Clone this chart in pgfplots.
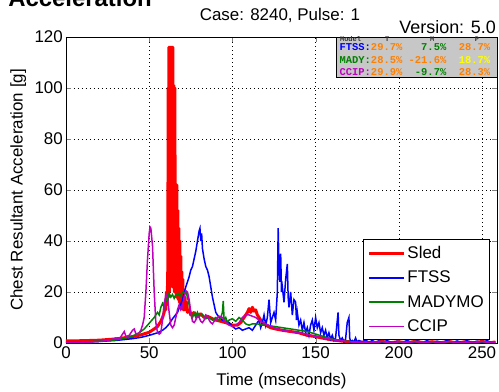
\documentclass[border=0pt]{standalone}
\usepackage{fontspec}
\setmainfont{Liberation Sans}
\newfontfamily\monofont{Liberation Mono}
\usepackage{pgfplots}
\pgfplotsset{compat=1.18}

\definecolor{mred}{RGB}{255,0,0}
\definecolor{mblue}{RGB}{0,0,255}
\definecolor{mgreen}{RGB}{0,128,0}
\definecolor{mmag}{RGB}{191,0,191}
\definecolor{morange}{RGB}{255,128,0}
\definecolor{myellow}{RGB}{255,255,0}

\begin{document}
\begin{tikzpicture}
\begin{axis}[
  scale only axis, width=431bp, height=306bp,
  xmin=0, xmax=259, ymin=0, ymax=120,
  xtick={0,50,...,250}, ytick={0,20,...,120},
  tick align=inside, major tick length=5bp, tick pos=both,
  axis line style={line width=0.9bp},
  grid=major,
  major grid style={black, line width=0.6bp, dash pattern=on 1bp off 3bp},
  font=\fontsize{17}{20}\selectfont,
  /pgf/number format/assume math mode=true,
  ticklabel style={font=\fontsize{17}{20}\selectfont},
  xticklabel style={inner sep=0pt, yshift=-3bp},
  yticklabel style={inner sep=0pt, xshift=-3bp},
  xlabel={Time (mseconds)},
  ylabel={Chest Resultant Acceleration [g]},
  every axis x label/.style={at={(axis description cs:0.5,-0.124)}, anchor=center},
  every axis y label/.style={at={(axis description cs:-0.111,0.5)}, anchor=center, rotate=90},
  legend style={at={(rel axis cs:0.984,0.01)}, anchor=south east,
    draw=black, line width=0.8bp, fill=white,
    font=\fontsize{17}{20}\selectfont, cells={anchor=west},
    row sep=7bp, inner xsep=4bp, inner ysep=4.5bp},
  legend image code/.code={\draw[#1] plot coordinates {(0bp,0bp) (17bp,0bp) (35bp,0bp)};},
  clip=true,
]
% Sled
\addplot[mred, line width=3bp, line join=round] coordinates {
(0,0.8) (10,0.9) (20,1.1) (30,1.6) (40,2.5) (45,3.2) (50,4.2) (53,5.5) (55,6.5)
(57,8.5) (58,10) (59,12) (59.5,16) (60,13) (60.4,20) (60.8,15) (61.2,30)
(61.4,100) (61.6,18) (61.8,116) (62.1,20) (62.4,116) (62.7,25) (63,116)
(63.3,30) (63.6,116) (63.9,22) (64.2,116) (64.5,25) (64.8,101) (65.1,20)
(65.4,100) (65.7,22) (66,62) (66.3,18) (66.6,62) (66.9,20) (67.2,52)
(67.5,17) (67.8,45) (68.1,16) (68.4,40) (68.7,15) (69,34) (69.3,15) (69.6,28)
(69.9,14) (70.2,25) (70.5,13) (70.8,21) (71.1,13) (71.5,18) (72,13) (72.5,16)
(73,12) (74,13) (75,11) (77,12) (79,10.5) (81,11.5) (83,10) (85,10.5) (88,9.5)
(90,9) (93,8.5) (96,8) (100,7) (103,7) (105,8) (107,10) (109,12) (110,13.5)
(111,12) (112,14) (113,12.5) (114,13) (115,11) (116,10) (118,8) (120,7) (123,6)
(126,5.5) (130,5) (135,4.5) (140,4) (145,3) (150,2.5) (155,1.8) (160,1.2)
(165,0.8) (170,0.5) (175,0.3) (180,0.3) (185,0.1) (190,0.6) (195,0.1) (200,0.5)
(205,0) (210,0.7) (215,0.1) (220,0.5) (225,0.1) (230,0.6) (235,0) (240,0.5)
(245,0.1) (250,0.6) (255,0.1) (258,0.4)
};
\addlegendentry{Sled}
% FTSS
\addplot[mblue, line width=1.5bp] coordinates {
(0,0.2) (10,0.3) (20,0.6) (30,1.0) (40,1.7) (45,2.2) (50,3) (55,4) (58,5) (60,6)
(62,7.5) (64,9.5) (67,12) (70,17) (72,22) (74,26) (75,28.6) (76,30) (77,33)
(78,36) (79,40) (80,44) (80.5,45) (81,40) (81.5,43) (82,37) (83,33) (84,30)
(85,28.6) (86,26) (87,22) (88,18) (89,15) (90,12) (92,10) (94,9) (96,8.5)
(98,8) (100,6.5) (102,5.5) (104,6) (106,5) (108,5.5) (110,6) (112,5) (114,7)
(116,9) (117,6) (118,8) (119,11) (120,7) (121,10) (122,17) (123,8) (124,10)
(125,12) (126,9) (127,20) (127.5,45) (128,30) (128.5,24) (129,35) (129.5,20)
(130,22) (131,16) (132,25) (133,31) (133.5,18) (134,14) (135,20) (136,11)
(137,17) (138,16) (138.5,9) (139,12) (140,7) (141,9) (142,5) (143,8) (144,4)
(145,6) (146,3) (147,7) (148,9) (149,5) (150,10) (151,6) (152,8) (153,4)
(154,6) (155,3) (156,5) (157,2) (158,4) (159,1.5) (160,3) (161,1) (162,2)
(163.5,12) (164,3) (165,1) (166,2) (167,0.5) (168,1.5) (169,8) (170,10)
(170.5,2) (171,0.5) (172,1) (173,0.3) (174,2) (175,0.3) (176,1) (178,0.4)
(180,1.2) (182,0.2) (184,1) (186,0.3) (188,0.8) (190,0.2) (193,0.9) (196,0.1)
(199,0.7) (202,0.2) (205,1) (208,0.1) (211,0.8) (214,0.2) (217,0.9) (220,0.1)
(223,0.7) (226,0.2) (229,1) (232,0.1) (235,0.8) (238,0.2) (241,0.9) (244,0.1)
(247,0.7) (250,0.2) (253,0.9) (256,0.1) (258,0.5)
};
\addlegendentry{FTSS}
% MADYMO
\addplot[mgreen, line width=1.5bp] coordinates {
(0,0.3) (10,0.4) (20,0.7) (30,1.2) (35,1.8) (40,2.8) (43,3.5) (45,4.5) (47,5.5)
(49,7) (51,8.5) (53,10) (55,12) (56,11) (57,14) (58,15.5) (59,14) (60,17.5)
(61,16) (62,19.5) (63,18) (64,19) (65,17.5) (66,19) (67,18.5) (68,19.5)
(69,18.5) (70,20) (71,19.5) (72,20) (73,18) (74,15) (75,12) (76,10) (77,11.5)
(78,10) (79,12) (80,10.5) (82,11) (84,9.5) (86,10) (88,9) (90,10) (92,9)
(93,10) (94,12) (94.5,16.5) (95,9) (96,10) (97,8) (98,9) (100,9.5) (102,8.5)
(104,10) (106,9) (108,7.5) (110,7) (112,7.5) (115,7.5) (118,7) (120,7)
(125,6.5) (130,6) (135,5.5) (140,5) (145,4.5) (150,3.5) (155,2.5) (160,1.5)
(165,1) (170,0.6) (175,0.4) (180,0.3) (190,0.5) (200,0.2) (210,0.6) (220,0.2)
(230,0.5) (240,0.2) (250,0.5) (258,0.3)
};
\addlegendentry{MADYMO}
% CCIP
\addplot[mmag, line width=1.5bp] coordinates {
(0,0) (10,0.2) (20,0.6) (25,1) (28,1.5) (30,2) (32,1.5) (34,3.5) (35,4.5)
(36,2.5) (38,3) (40,5) (41,5.5) (42,3.5) (44,4) (45,5) (46,7) (47,10) (48,20)
(49,33) (50,43) (50.5,45.5) (51,45) (52,38) (53,20) (54,8) (55,4) (56,3.5)
(57,4) (58,9) (59,15) (60,19) (61,18) (62,12) (63,7) (64,6) (65,7) (66,10)
(67,13) (68,15) (69,13) (70,14) (71,18) (72,20.5) (73,20) (74,17) (75,12)
(76,8.5) (77,8) (78,9) (79,10.5) (80,10) (81,8.5) (82,8) (83,9) (84,11)
(85,10.5) (86,9) (87,8) (88,7.5) (89,8.5) (90,9) (92,10.5) (94,10) (96,8)
(98,7) (100,6.5) (102,7) (104,8) (106,10) (108,11) (110,11) (112,10.5)
(114,10) (116,9) (118,8) (120,7.5) (125,6) (130,5) (135,4.5) (140,4) (145,3.5)
(150,2.5) (155,2) (160,1.3) (165,1) (170,0.5) (175,0.2) (180,0.3) (185,0)
(190,0.6) (195,0) (200,0.5) (205,0.1) (210,0.6) (215,0) (220,0.5) (225,0.1)
(230,0.6) (235,0) (240,0.4) (245,0.1) (250,0.6) (255,0) (258,0.4)
};
\addlegendentry{CCIP}

% statistics box
\draw[black, line width=0.5bp, fill=black!22] (axis cs:162.5,104.3) rectangle (axis cs:259,120);
\begin{scope}[every node/.style={anchor=west, inner sep=0pt,
    font=\monofont\bfseries\fontsize{10.5}{12}\selectfont}]
\begin{scope}[every node/.style={anchor=center, inner sep=0pt, text=black!80,
    font=\monofont\bfseries\fontsize{7}{8}\selectfont}]
\node at (axis cs:171,119.2) {Model};
\node at (axis cs:193,119.2) {T};
\node at (axis cs:220,119.2) {M};
\node at (axis cs:247,119.2) {P};
\end{scope}
\node at (axis cs:164.3,115.9) {\textcolor{mblue}{FTSS:}\textcolor{morange}{29.7\%}~~~\textcolor{mgreen}{7.5\%}~~\textcolor{morange}{28.7\%}};
\node at (axis cs:164.3,111.1) {\textcolor{mgreen}{MADY:}\textcolor{morange}{28.5\%}~\textcolor{morange}{-21.6\%}~~\textcolor{myellow}{18.7\%}};
\node at (axis cs:164.3,106.3) {\textcolor{mmag}{CCIP:}\textcolor{morange}{29.9\%}~~\textcolor{mgreen}{-9.7\%}~~\textcolor{morange}{28.3\%}};
\end{scope}
\end{axis}

% titles above the axes
\node[font=\fontsize{17}{20}\selectfont, anchor=center] at (214bp,328bp) {Case: 8240, Pulse: 1};
\node[font=\fontsize{18}{21}\selectfont, anchor=east, inner sep=0pt] at (430bp,316bp) {Version: 5.0};
\node[font=\bfseries\fontsize{24}{28}\selectfont, anchor=base east, inner sep=0pt] at (86bp,336bp) {Acceleration};

\pgfresetboundingbox
\path[use as bounding box] (-66bp,-49bp) rectangle (433bp,343bp);
\end{tikzpicture}
\end{document}
